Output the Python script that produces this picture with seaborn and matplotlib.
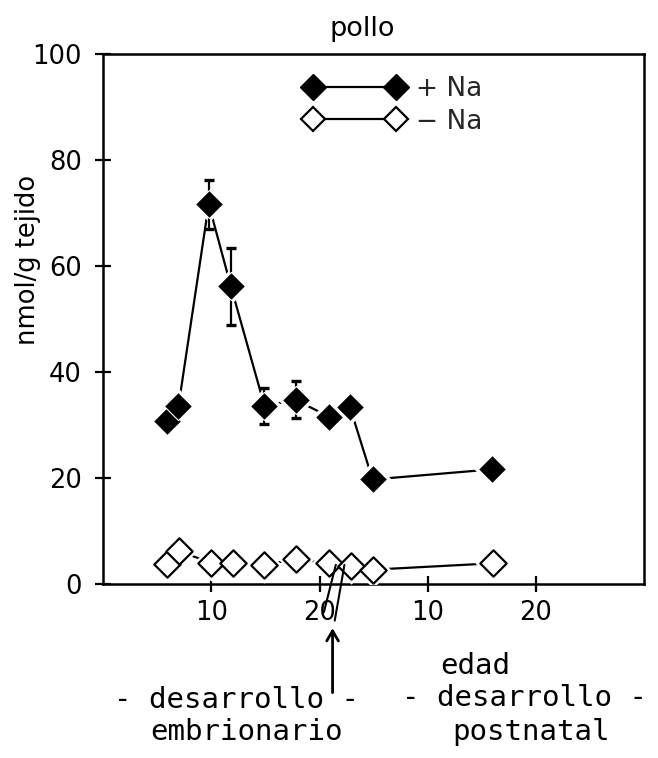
import numpy as np
import pandas as pd
import matplotlib
matplotlib.use("Agg")
import matplotlib.pyplot as plt
import seaborn as sns
from matplotlib.lines import Line2D

# ---------------- data ----------------
days_plus = [5.85, 6.95, 9.75, 11.8, 14.9, 17.8, 20.9, 22.8, 24.9, 35.9]
na_plus = [30.8, 33.5, 71.6, 56.1, 33.6, 34.7, 31.5, 33.4, 19.7, 21.6]
err_plus = [0, 0, 4.6, 7.3, 3.4, 3.5, 0, 0, 0, 0]
days_minus = [5.9, 7.0, 9.95, 11.95, 14.9, 17.8, 20.9, 22.9, 24.9, 36.0]
na_minus = [3.8, 6.2, 4.0, 4.0, 3.6, 4.7, 3.9, 3.3, 2.7, 3.9]
xtick_pos = [10, 20, 30, 40]
xtick_labels = ["10", "20", "10", "20"]
ytick_pos = [0, 20, 40, 60, 80, 100]
series_labels = ["+ Na", "\u2212 Na"]
title_text = "pollo"
ylabel_text = "nmol/g tejido"

# ---------------- figure ----------------
sns.set_theme(style="ticks")
plt.rcParams["font.family"] = ["DejaVu Sans"]

W, H = 658, 758
fig = plt.figure(figsize=(W / 100, H / 100), dpi=100)
fig.patch.set_facecolor("white")

def fx(px):
    return px / W

def fy(py):
    return 1 - py / H

ax_left, ax_right, ax_top, ax_bot = 103.3, 644, 53.5, 584
ax = fig.add_axes([fx(ax_left), fy(ax_bot), (ax_right - ax_left) / W, (ax_bot - ax_top) / H])
ax.set_facecolor("white")

df_plus = pd.DataFrame({"dia": days_plus, "val": na_plus, "err": err_plus})
df_minus = pd.DataFrame({"dia": days_minus, "val": na_minus})

# connecting lines
sns.lineplot(data=df_plus, x="dia", y="val", ax=ax, color="black", lw=1.6,
             sort=False, estimator=None, zorder=1)
sns.lineplot(data=df_minus, x="dia", y="val", ax=ax, color="black", lw=1.6,
             sort=False, estimator=None, zorder=1)

# white halos (gap between lines and markers)
for d in (df_plus, df_minus):
    sns.scatterplot(data=d, x="dia", y="val", ax=ax, marker="D", s=340,
                    color="white", edgecolor="white", linewidth=0, zorder=3)

# error bars
ax.errorbar(df_plus["dia"], df_plus["val"], yerr=df_plus["err"], fmt="none",
            ecolor="black", elinewidth=1.6, capsize=3.5, capthick=2.4, zorder=4)

# markers
sns.scatterplot(data=df_plus, x="dia", y="val", ax=ax, marker="D", s=205,
                color="black", edgecolor="white", linewidth=0.8, zorder=5)
sns.scatterplot(data=df_minus, x="dia", y="val", ax=ax, marker="D", s=180,
                color="white", edgecolor="black", linewidth=1.6, zorder=5)

ax.set_xlim(0, 50)
ax.set_ylim(0, 100)
ax.set_xticks(xtick_pos)
ax.set_xticklabels(xtick_labels)
ax.set_yticks(ytick_pos)
ax.set_yticklabels([str(v) for v in ytick_pos])
ax.set_xlabel("")
ax.set_ylabel("")
for sp in ax.spines.values():
    sp.set_visible(True)
    sp.set_linewidth(1.8)
    sp.set_color("black")
ax.tick_params(axis="both", direction="inout", length=11, width=1.6, colors="black",
               labelsize=18.5, top=False, right=False)
ax.tick_params(axis="y", pad=10)
ax.tick_params(axis="x", pad=6)
ax.grid(False)

# legend: marker-line-marker
h_plus = Line2D([], [], color="black", lw=1.6, marker="D", markersize=13.6,
                markerfacecolor="black", markeredgecolor="black")
h_minus = Line2D([], [], color="black", lw=1.6, marker="D", markersize=12.6,
                 markerfacecolor="white", markeredgecolor="black", markeredgewidth=1.6)
ax.legend([h_plus, h_minus], series_labels, numpoints=2, frameon=False,
          loc="upper left", bbox_to_anchor=(fx(304.7), fy(76)),
          bbox_transform=fig.transFigure, borderpad=0, borderaxespad=0,
          handlelength=3.75, handletextpad=0.45, labelspacing=0.25,
          fontsize=19)

# titles
fig.text(fx(362), fy(29), title_text, ha="center", va="center", fontsize=19.5, color="black")
fig.text(fx(28), fy(260), ylabel_text, ha="center", va="center", rotation=90,
         fontsize=18.5, color="black")

# axis break marks
for (x0, y0, x1, y1) in [(21.5, 3.6, 20.4, -5.3), (22.3, 3.6, 21.4, -6.9)]:
    ax.add_line(Line2D([x0, x1], [y0, y1], color="black", lw=1.5, clip_on=False, zorder=6))

# arrow
ax.annotate("", xy=(21.2, -7.8), xycoords="data",
            xytext=(21.2, -21.0), textcoords="data",
            arrowprops=dict(arrowstyle="->,head_length=0.6,head_width=0.35",
                            color="black", lw=2.0), annotation_clip=False)

# bottom annotations
mono = dict(family="DejaVu Sans Mono", fontsize=21, color="black")
fig.text(fx(475), fy(674), "edad", ha="center", va="baseline", **mono)
fig.text(fx(236), fy(708), "- desarrollo -", ha="center", va="baseline", **mono)
fig.text(fx(525), fy(706), "- desarrollo -", ha="center", va="baseline", **mono)
fig.text(fx(246), fy(740), "embrionario", ha="center", va="baseline", **mono)
fig.text(fx(531), fy(740), "postnatal", ha="center", va="baseline", **mono)

fig.savefig("out.png", dpi=100, facecolor="white")
